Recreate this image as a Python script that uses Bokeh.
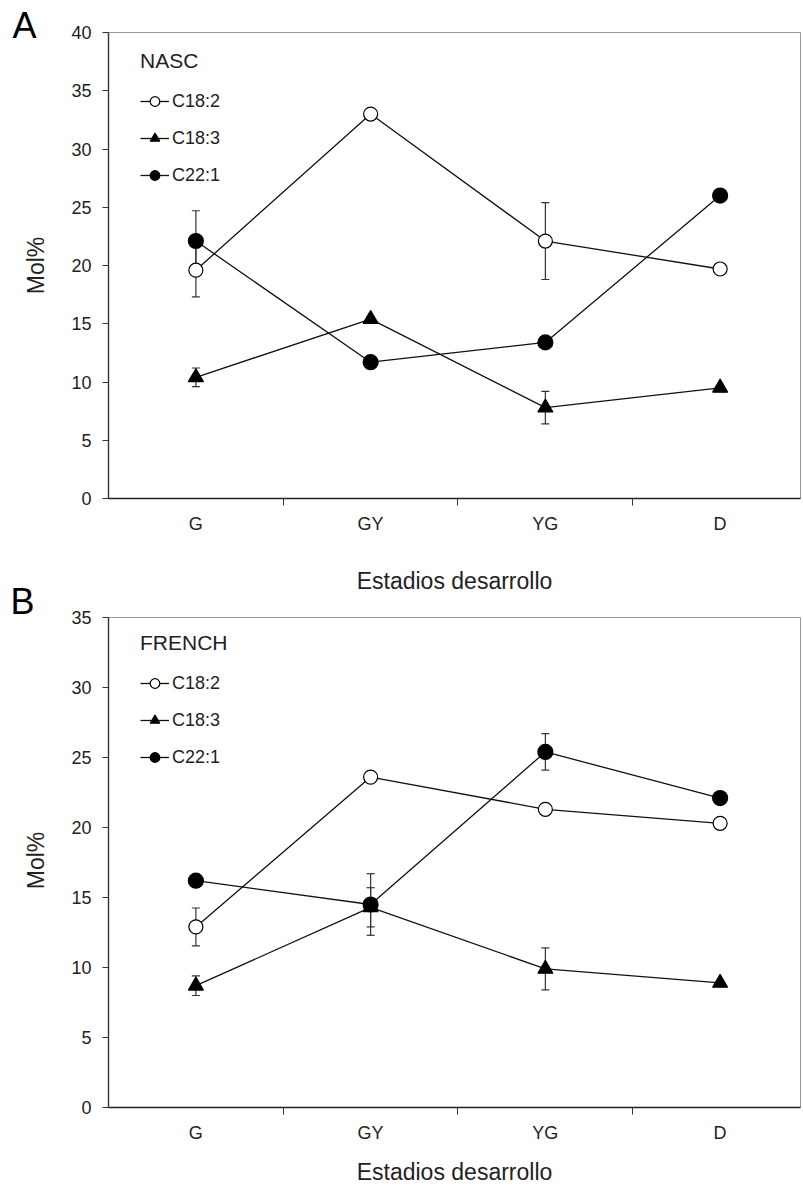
import math
from bokeh.plotting import figure
from bokeh.models import (Range1d, FixedTicker, Legend, LegendItem, Whisker,
                          ColumnDataSource, TeeHead, Label)
from bokeh.layouts import column, row
from bokeh.embed import file_html
from bokeh.resources import INLINE

# ---------------- data ----------------
stages = ["G", "GY", "YG", "D"]
series = ["C18:2", "C18:3", "C22:1"]

nasc_c182 = [19.6, 33.0, 22.1, 19.7]
nasc_c182_err = [2.3, 0.2, 3.3, 0.2]
nasc_c183 = [10.4, 15.4, 7.8, 9.5]
nasc_c183_err = [0.8, 0.2, 1.4, 0.2]
nasc_c221 = [22.1, 11.7, 13.4, 26.0]
nasc_c221_err = [2.6, 0.2, 0.2, 0.2]

french_c182 = [12.9, 23.6, 21.3, 20.3]
french_c182_err = [1.35, 0.2, 0.2, 0.2]
french_c183 = [8.7, 14.3, 9.9, 8.9]
french_c183_err = [0.7, 1.4, 1.5, 0.1]
french_c221 = [16.2, 14.5, 25.4, 22.1]
french_c221_err = [0.1, 2.2, 1.3, 0.2]

FONT = "Liberation Sans"
TXT = "#222222"
PAGE_H = 1187
SIDE_W = 68


def make_panel(title, vals, errs, ymax, height, top, bottom,
               legend_loc, legend_spacing, xlab_standoff):
    xs = list(range(1, len(stages) + 1))
    p = figure(width=803 - SIDE_W, height=height, output_backend="svg",
               toolbar_location=None, x_range=Range1d(0.5, 4.46),
               y_range=Range1d(0, ymax), min_border_left=38,
               min_border_right=3, min_border_top=top,
               min_border_bottom=bottom)
    p.grid.visible = False
    p.outline_line_color = "#9a9a9a"
    p.outline_line_width = 1
    p.background_fill_color = "white"
    p.border_fill_color = "white"

    # y axis (its title "Mol%" is drawn in the side strip)
    ya = p.yaxis[0]
    ya.ticker = FixedTicker(ticks=list(range(0, ymax + 1, 5)))
    ya.axis_line_color = "#333333"
    ya.axis_line_width = 1.4
    ya.major_tick_line_color = "#333333"
    ya.major_tick_out = 6
    ya.major_tick_in = 0
    ya.minor_tick_line_color = None
    ya.major_label_text_font = FONT
    ya.major_label_text_font_size = "18px"
    ya.major_label_text_color = TXT
    ya.major_label_standoff = 11

    # x axis
    xa = p.xaxis[0]
    xa.ticker = FixedTicker(ticks=xs, minor_ticks=[1.5, 2.5, 3.5])
    xa.major_label_overrides = {x: s for x, s in zip(xs, stages)}
    xa.axis_line_color = "#222222"
    xa.axis_line_width = 1.6
    xa.major_tick_line_color = None
    xa.major_tick_out = 0
    xa.major_tick_in = 0
    xa.minor_tick_line_color = "#333333"
    xa.minor_tick_out = 7
    xa.minor_tick_in = 0
    xa.major_label_text_font = FONT
    xa.major_label_text_font_size = "18px"
    xa.major_label_text_color = TXT
    xa.major_label_standoff = 8
    xa.axis_label = "Estadios desarrollo"
    xa.axis_label_text_font = FONT
    xa.axis_label_text_font_size = "23px"
    xa.axis_label_text_font_style = "normal"
    xa.axis_label_text_color = TXT
    xa.axis_label_standoff = xlab_standoff

    markers = [("circle", "white"), ("triangle", "black"), ("circle", "black")]
    sizes = [14, 15, 15]
    items = []
    for name, v, e, (mk, fill), sz in zip(series, vals, errs, markers, sizes):
        src = ColumnDataSource(dict(
            x=xs, y=v,
            upper=[a + b for a, b in zip(v, e)],
            lower=[a - b for a, b in zip(v, e)]))
        lr = p.line("x", "y", source=src, line_color="#111111", line_width=1.3)
        sr = p.scatter("x", "y", source=src, marker=mk, size=sz,
                       fill_color=fill, line_color="black", line_width=1.2)
        w = Whisker(base="x", upper="upper", lower="lower", source=src,
                    line_color="#333333", line_width=1.2,
                    upper_head=TeeHead(size=8, line_color="#333333", line_width=1.2),
                    lower_head=TeeHead(size=8, line_color="#333333", line_width=1.2))
        p.add_layout(w)
        items.append(LegendItem(label=name, renderers=[lr, sr]))

    leg = Legend(items=items, title=title, location=legend_loc,
                 orientation="vertical", padding=0, margin=0,
                 spacing=legend_spacing, glyph_width=29, glyph_height=24,
                 label_standoff=3, border_line_alpha=0,
                 background_fill_alpha=0,
                 label_text_font=FONT, label_text_font_size="18px",
                 label_text_color=TXT,
                 title_text_font=FONT, title_text_font_size="21px",
                 title_text_font_style="normal", title_text_color=TXT,
                 title_standoff=16)
    p.add_layout(leg)
    return p


pa = make_panel("NASC",
                [nasc_c182, nasc_c183, nasc_c221],
                [nasc_c182_err, nasc_c183_err, nasc_c221_err],
                40, 598, 32, 100, (32, 311), 13, 31)
pb = make_panel("FRENCH",
                [french_c182, french_c183, french_c221],
                [french_c182_err, french_c183_err, french_c221_err],
                35, 589, 19, 80, (32, 338), 13, 13)

# ---- side strip with panel letters and y-axis titles ----
side = figure(width=SIDE_W, height=PAGE_H, output_backend="svg",
              toolbar_location=None, x_range=Range1d(0, SIDE_W),
              y_range=Range1d(0, PAGE_H), x_axis_location=None,
              y_axis_location=None, min_border=0, min_border_left=0,
              min_border_right=0, min_border_top=0, min_border_bottom=0)
side.grid.visible = False
side.outline_line_color = None
side.background_fill_color = "white"
side.border_fill_color = "white"


def side_text(txt, x, y_from_top, size, angle=0.0, align="left", color="black"):
    side.add_layout(Label(x=x, y=PAGE_H - y_from_top, text=txt,
                          text_font=FONT, text_font_size=size,
                          text_color=color, text_align=align,
                          text_baseline="middle", angle=angle))


side_text("A", 12, 25, "36px")
side_text("Mol%", 35, 265, "23px", angle=math.pi / 2, align="center", color=TXT)
side_text("B", 10, 601, "36px")
side_text("Mol%", 35, 860, "23px", angle=math.pi / 2, align="center", color=TXT)

layout = row(side, column(pa, pb, spacing=0), spacing=0)
open("out.html", "w").write(file_html(layout, INLINE))
